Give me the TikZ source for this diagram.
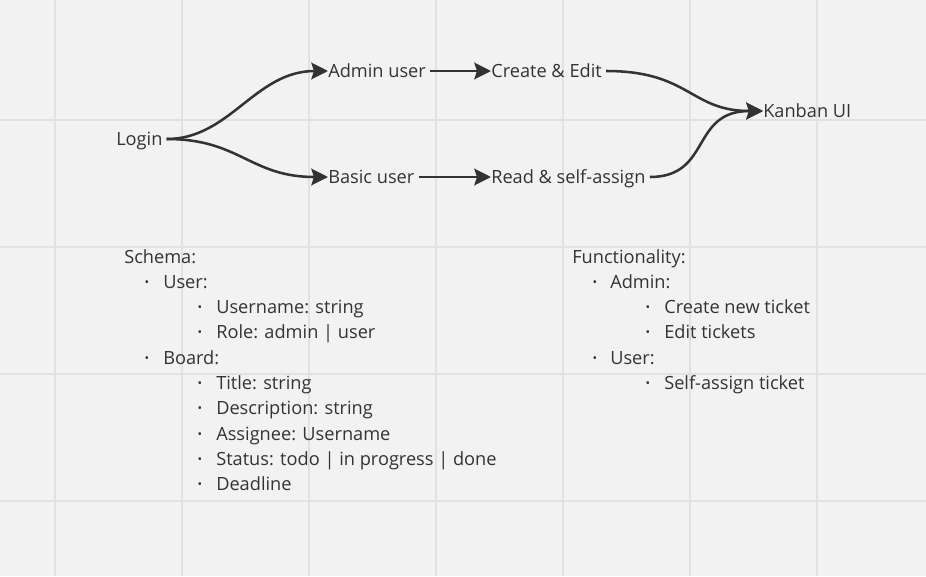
\documentclass[tikz,border=0pt]{standalone}
\usepackage{fontspec}
\setmainfont{Open Sans}
\usetikzlibrary{arrows.meta}
\definecolor{bg}{HTML}{F2F2F2}
\definecolor{gridc}{HTML}{E1E1E1}
\definecolor{ink}{HTML}{333333}
\begin{document}
\begin{tikzpicture}[x=0.75pt,y=-0.75pt,
  txt/.style={inner sep=0pt, text height=9.75pt, text depth=0pt, anchor=west, text=ink, font=\fontsize{13.65pt}{16pt}\selectfont},
  bul/.style={inner sep=0pt, anchor=center, text=ink, font=\fontsize{9pt}{10pt}\selectfont, yshift=-1.5pt},
  conn/.style={draw=ink, line width=1.9pt, -{Stealth[length=12.5pt,width=12.5pt,inset=2pt]}, shorten <=3pt}
]
\useasboundingbox (0,0) rectangle (926,576);
\fill[bg] (0,0) rectangle (926,576);
\foreach \gx in {55,182,309,436,563,690,817} \draw[gridc, line width=0.9pt] (\gx,0) -- (\gx,576);
\foreach \gy in {120,247,374,501} \draw[gridc, line width=0.9pt] (0,\gy) -- (926,\gy);

% flow nodes
\node[txt] (login) at (116,139) {Login};
\node[txt] (admin) at (328,71) {Admin user};
\node[txt] (basic) at (328,177) {Basic user};
\node[txt] (create) at (491,71) {Create \& Edit};
\node[txt] (read) at (491,177) {Read \& self-assign};
\node[txt] (kanban) at (763,111) {Kanban UI};

\draw[conn] (login.east) .. controls (230,139) and (255,71) .. (admin.west);
\draw[conn] (login.east) .. controls (240,139) and (250,177) .. (basic.west);
\draw[conn] (admin.east) -- (create.west);
\draw[conn] (basic.east) -- (read.west);
\draw[conn] (create.east) .. controls (690,71) and (690,111) .. (kanban.west);
\draw[conn] (read.east) .. controls (712,177) and (690,111) .. (kanban.west);

% Schema list
\node[txt] (schema) at (124,257) {Schema:};
\node[bul] (b1) at (147,282) {•};
\node[txt] (user) at (163,282) {User:};
\node[bul] (b2) at (200,307) {•};
\node[txt] (uname) at (216,307) {Username: string};
\node[bul] (b3) at (200,332) {•};
\node[txt] (role) at (216,332) {Role: admin | user};
\node[bul] (b4) at (147,358) {•};
\node[txt] (board) at (163,358) {Board:};
\node[bul] (b5) at (200,383) {•};
\node[txt] (title) at (216,383) {Title: string};
\node[bul] (b6) at (200,408) {•};
\node[txt] (desc) at (216,408) {Description: string};
\node[bul] (b7) at (200,434) {•};
\node[txt] (assg) at (216,434) {Assignee: Username};
\node[bul] (b8) at (200,459) {•};
\node[txt] (status) at (216,459) {Status: todo | in progress | done};
\node[bul] (b9) at (200,484) {•};
\node[txt] (dl) at (216,484) {Deadline};

% Functionality list
\node[txt] (func) at (572,257) {Functionality:};
\node[bul] (f1) at (595,282) {•};
\node[txt] (fadmin) at (610,282) {Admin:};
\node[bul] (f2) at (648,307) {•};
\node[txt] (fcreate) at (664,307) {Create new ticket};
\node[bul] (f3) at (648,332) {•};
\node[txt] (fedit) at (664,332) {Edit tickets};
\node[bul] (f4) at (595,358) {•};
\node[txt] (fuser) at (610,358) {User:};
\node[bul] (f5) at (648,383) {•};
\node[txt] (fself) at (664,383) {Self-assign ticket};
\end{tikzpicture}
\end{document}
